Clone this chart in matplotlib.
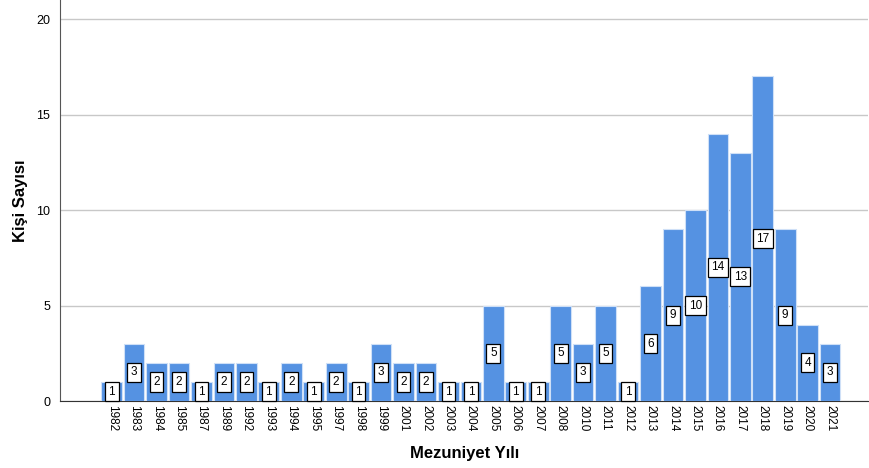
import matplotlib
matplotlib.use("Agg")
import matplotlib.pyplot as plt

plt.rcParams['font.family'] = ['Liberation Sans', 'DejaVu Sans']

years = ['1982', '1983', '1984', '1985', '1987', '1989', '1992', '1993', '1994', '1995',
         '1997', '1998', '1999', '2001', '2002', '2003', '2004', '2005', '2006', '2007',
         '2008', '2010', '2011', '2012', '2013', '2014', '2015', '2016', '2017', '2018',
         '2019', '2020', '2021']
counts = [1, 3, 2, 2, 1, 2, 2, 1, 2, 1,
          2, 1, 3, 2, 2, 1, 1, 5, 1, 1,
          5, 3, 5, 1, 6, 9, 10, 14, 13, 17,
          9, 4, 3]

fig = plt.figure(figsize=(8.7, 4.68), dpi=100)
ax = fig.add_axes([0.069, 0.143, 0.929, 0.857])

x = list(range(len(years)))
ax.bar(x, counts, width=0.92, color='#5592E2', edgecolor='#cfe0f7', linewidth=0.8, zorder=3)

for xi, c in zip(x, counts):
    ax.text(xi, c / 2, str(c), ha='center', va='center', fontsize=8.5, zorder=4,
            bbox=dict(boxstyle='square,pad=0.3', fc='white', ec='black', lw=0.9))

ax.set_xlim(-2.3, len(years) + 0.7)
ax.set_ylim(0, 21)
ax.set_yticks([0, 5, 10, 15, 20])
ax.set_xticks(x)
ax.set_xticklabels(years, rotation=-90, fontsize=8.5)
ax.tick_params(axis='y', labelsize=9, length=0, pad=7)
ax.tick_params(axis='x', length=0, pad=3)

ax.grid(axis='y', color='#c8c8c8', linewidth=1, zorder=0)
ax.spines['top'].set_visible(False)
ax.spines['right'].set_visible(False)
ax.spines['left'].set_color('#555555')
ax.spines['bottom'].set_color('#333333')

ax.set_xlabel('Mezuniyet Yılı', fontsize=12, fontweight='bold', labelpad=10)
ax.set_ylabel('Kişi Sayısı', fontsize=12, fontweight='bold', labelpad=6)

fig.savefig('out.png', dpi=100)
